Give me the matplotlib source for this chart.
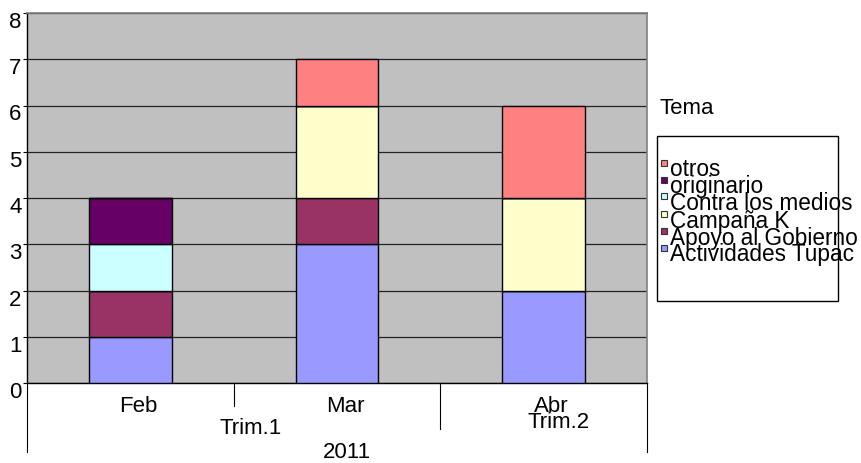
import numpy as np
import matplotlib
matplotlib.use("Agg")
import matplotlib.pyplot as plt
from matplotlib.patches import Rectangle
from matplotlib.transforms import ScaledTranslation, blended_transform_factory

plt.rcParams['font.family'] = ['Liberation Sans', 'DejaVu Sans']

# data
months = ['Feb', 'Mar', 'Abr']
quarters = ['Trim.1', 'Trim.2']
year = '2011'
series = ['Actividades Tupac', 'Apoyo al Gobierno', 'Campaña K',
          'Contra los medios', 'originario', 'otros']
actividades = [1, 3, 2]
apoyo = [1, 1, 0]
campana = [0, 2, 2]
contra = [1, 0, 0]
originario = [1, 0, 0]
otros = [0, 1, 2]
values = [actividades, apoyo, campana, contra, originario, otros]
colors = ['#9999ff', '#993366', '#ffffcc', '#ccffff', '#660066', '#ff8080']

W, H = 862, 463
fs = 16
fig = plt.figure(figsize=(W / 100, H / 100), dpi=100)
ax = fig.add_axes([27 / W, 80 / H, 620 / W, 370 / H])
ax.set_facecolor('#c0c0c0')

x = np.arange(len(months))
bottom = np.zeros(len(months))
for name, vals, c in zip(series, values, colors):
    v = np.array(vals, dtype=float)
    ax.bar(x, v, 0.4, bottom=bottom, color=c, edgecolor='black',
           linewidth=1, zorder=3, label=name)
    bottom += v

ax.set_xlim(-0.5, 2.5)
ax.set_ylim(0, 8)
ax.set_yticks(range(0, 9))
ax.yaxis.grid(True, color='#222222', linewidth=0.9, zorder=1)
ax.set_axisbelow(True)
ax.set_xticks([])
ax.tick_params(axis='y', length=3, width=0.8, pad=1, labelsize=fs)
for lab in ax.get_yticklabels():
    lab.set_transform(lab.get_transform() + ScaledTranslation(0, -0.07, fig.dpi_scale_trans))

for s in ['top', 'right']:
    ax.spines[s].set_color('#808080')
    ax.spines[s].set_linewidth(1.2)
for s in ['left', 'bottom']:
    ax.spines[s].set_color('black')
    ax.spines[s].set_linewidth(1)

# multi-level category axis
tr = blended_transform_factory(ax.transData, ax.transAxes)
ph = 1 / 370  # one pixel in axes fraction
for xb, depth in [(-0.5, 69), (0.5, 23), (1.5, 46), (2.5, 69)]:
    ax.plot([xb, xb], [0, -depth * ph], color='black', lw=0.8,
            transform=tr, clip_on=False)

dx = 8 / 207  # labels sit a bit right of the bar centers
for i, m in enumerate(months):
    ax.text(i + dx, -23 * ph, m, transform=tr, ha='center', va='center', fontsize=fs)
ax.text(0.5 + 17 / 207, -45 * ph, quarters[0], transform=tr,
        ha='center', va='center', fontsize=fs)
ax.text(2 + 15 / 207, -40 * ph, quarters[1], transform=tr,
        ha='center', va='center', fontsize=fs)
ax.text(1 + 10 / 207, -69 * ph, year, transform=tr,
        ha='center', va='center', fontsize=fs)

# legend drawn by hand to copy its overlapping lines
def px(xp, yp):
    return xp / W, 1 - yp / H

fig.text(*px(660, 108), 'Tema', ha='left', va='center', fontsize=fs)
x0, y0 = px(657, 301)
fig.patches.append(Rectangle((x0, y0), (838 - 657) / W, (301 - 136) / H,
                             transform=fig.transFigure, facecolor='white',
                             edgecolor='black', linewidth=1, zorder=1))
text_y = [255, 238, 221, 203, 187, 170]
for name, c, ty in zip(series, colors, text_y):
    mx, my = px(660.5, ty - 4)
    fig.patches.append(Rectangle((mx, my), 6 / W, 6 / H, transform=fig.transFigure,
                                 facecolor=c, edgecolor='#333333', linewidth=0.8,
                                 zorder=2))
    fig.text(*px(670, ty), name, ha='left', va='center', fontsize=16.3, zorder=3)

fig.savefig('out.png', dpi=100)
